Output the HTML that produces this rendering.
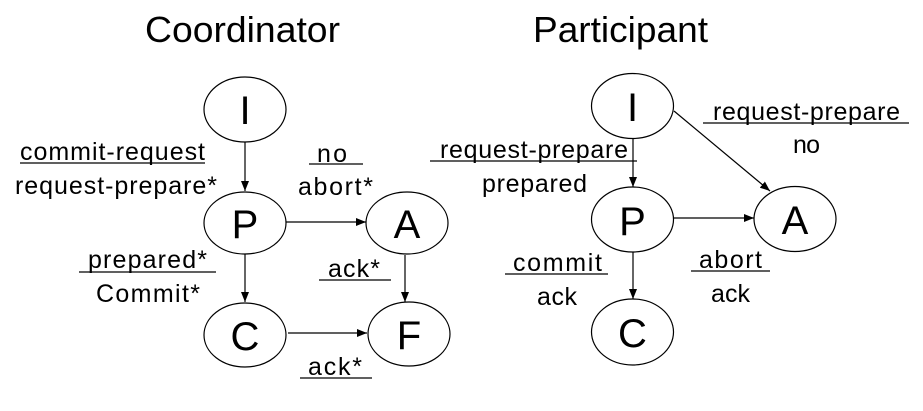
<!DOCTYPE html>
<html><head><meta charset="utf-8"><style>html,body{margin:0;padding:0;background:#fff}svg{display:block}</style></head><body>
<svg width="923" height="411" viewBox="0 0 923 411" xmlns="http://www.w3.org/2000/svg" font-family="Liberation Sans, sans-serif" fill="#000">
<defs><marker id="ar" markerWidth="10" markerHeight="8" refX="10" refY="4" orient="auto" markerUnits="userSpaceOnUse"><path d="M0,0 L10,4 L0,8 z"/></marker></defs>
<text x="145" y="42" font-size="36" textLength="195" lengthAdjust="spacingAndGlyphs">Coordinator</text>
<text x="533" y="42" font-size="36" textLength="175" lengthAdjust="spacingAndGlyphs">Participant</text>
<g fill="none" stroke="#000" stroke-width="1.2">
<ellipse cx="245" cy="109.5" rx="41" ry="32.5"/>
<ellipse cx="245" cy="223" rx="41" ry="31"/>
<ellipse cx="407" cy="223" rx="41" ry="31"/>
<ellipse cx="245" cy="335" rx="41" ry="32"/>
<ellipse cx="409" cy="334" rx="41" ry="32"/>
<ellipse cx="632.5" cy="106" rx="41" ry="32.5"/>
<ellipse cx="632.5" cy="219.5" rx="41" ry="32.5"/>
<ellipse cx="795" cy="219" rx="41" ry="32.5"/>
<ellipse cx="632.5" cy="332" rx="41" ry="33"/>
</g>
<g stroke="#000" stroke-width="1.2" marker-end="url(#ar)">
<line x1="245" y1="142" x2="245" y2="191"/>
<line x1="286" y1="222" x2="366" y2="222"/>
<line x1="245" y1="254" x2="245" y2="302"/>
<line x1="405" y1="255" x2="405" y2="302"/>
<line x1="288" y1="333" x2="367" y2="333"/>
<line x1="633" y1="138" x2="633" y2="187"/>
<line x1="674" y1="111" x2="770" y2="191"/>
<line x1="674" y1="218" x2="754" y2="218"/>
<line x1="633" y1="252" x2="633" y2="299"/>
</g>
<g font-size="40" text-anchor="middle">
<text x="245" y="124">I</text><text x="245" y="238">P</text><text x="407" y="238">A</text>
<text x="245" y="350">C</text><text x="409" y="349">F</text>
<text x="632.5" y="121">I</text><text x="632.5" y="235">P</text><text x="795" y="234">A</text><text x="632.5" y="347">C</text>
</g>
<g font-size="25" lengthAdjust="spacingAndGlyphs">
<text x="20" y="160" textLength="185">commit-request</text>
<text x="15" y="194" textLength="202">request-prepare*</text>
<text x="317" y="162" textLength="30">no</text>
<text x="298" y="195" textLength="75">abort*</text>
<text x="88" y="268" textLength="119">prepared*</text>
<text x="96" y="302" textLength="104">Commit*</text>
<text x="328" y="277" textLength="52">ack*</text>
<text x="308" y="375" textLength="54">ack*</text>
<text x="713" y="120" textLength="187">request-prepare</text>
<text x="793" y="153" textLength="27">no</text>
<text x="440" y="158" textLength="188">request-prepare</text>
<text x="482" y="192" textLength="105">prepared</text>
<text x="513" y="271" textLength="89">commit</text>
<text x="537" y="305" textLength="40">ack</text>
<text x="699" y="268" textLength="63">abort</text>
<text x="711" y="302" textLength="39">ack</text>
</g>
<g stroke="#000" stroke-width="1.3">
<line x1="20" y1="163" x2="205" y2="163"/>
<line x1="309" y1="164" x2="363" y2="164"/>
<line x1="79" y1="272" x2="216" y2="272"/>
<line x1="319" y1="280" x2="391" y2="280"/>
<line x1="300" y1="378" x2="372" y2="378"/>
<line x1="703" y1="123" x2="909" y2="123"/>
<line x1="430" y1="161" x2="637" y2="161"/>
<line x1="505" y1="274" x2="608" y2="274"/>
<line x1="691" y1="271" x2="770" y2="271"/>
</g>
</svg>
</body></html>
